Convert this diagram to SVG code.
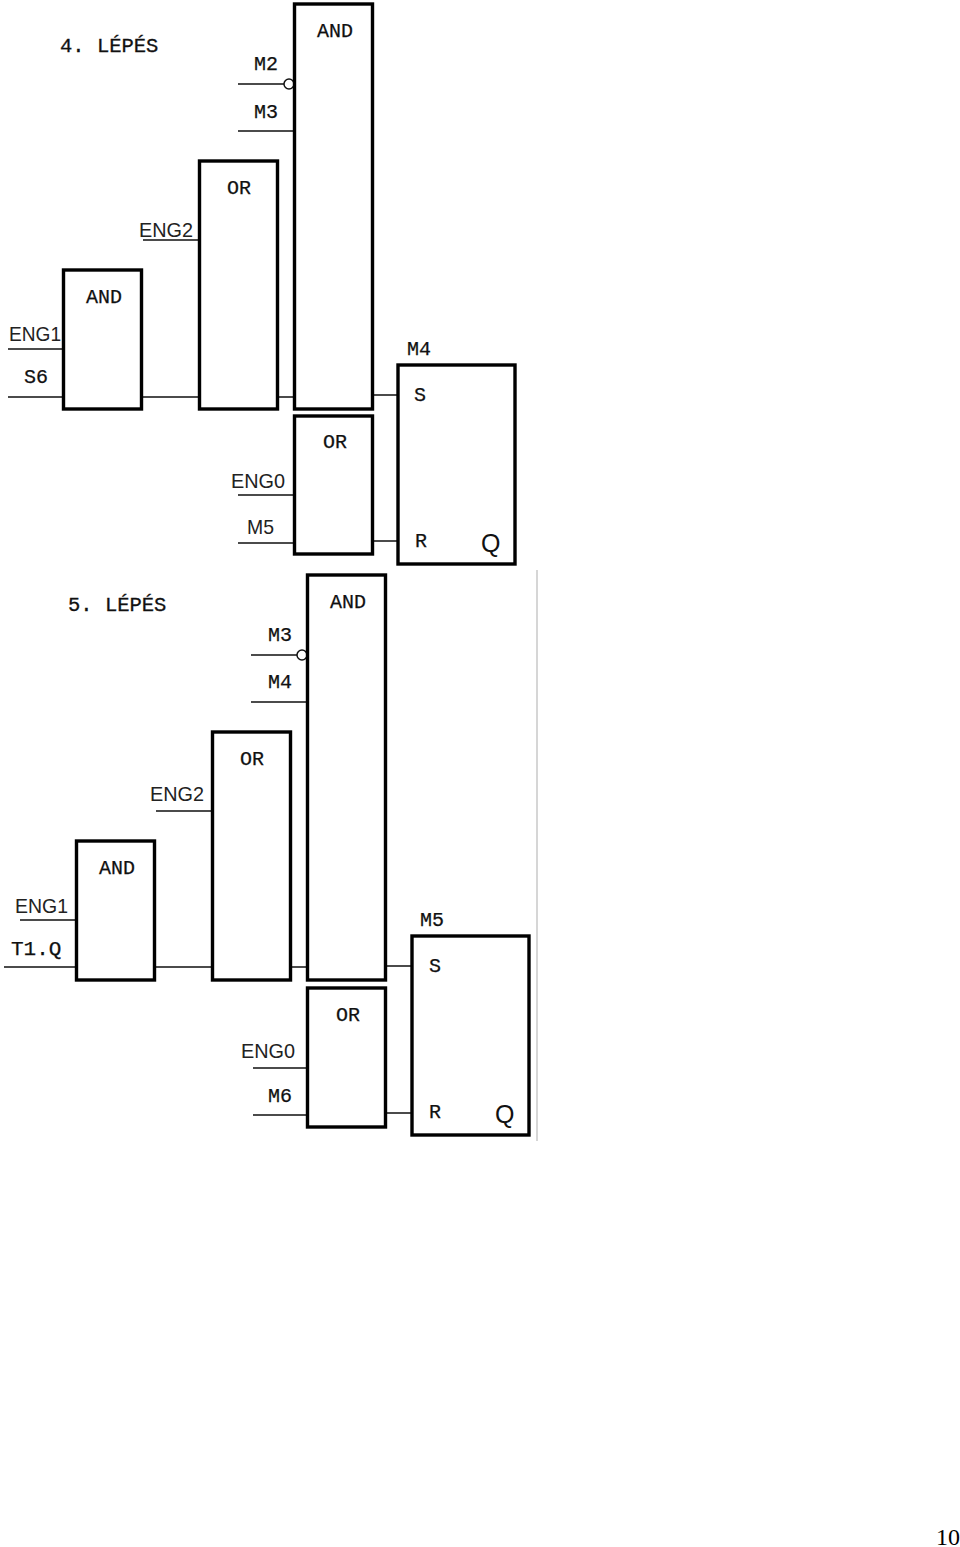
<svg xmlns="http://www.w3.org/2000/svg" width="960" height="1547" viewBox="0 0 960 1547">
<style>
.box{fill:none;stroke:#000;stroke-width:3.4}
.w{fill:none;stroke:#111;stroke-width:1.5}
.m{font-family:"Liberation Mono",monospace;font-size:20px;fill:#111;stroke:#111;stroke-width:.25}
.h{font-family:"Liberation Mono",monospace;font-size:20.500px;fill:#111;stroke:#111;stroke-width:.3}
.s{font-family:"Liberation Sans",Arial,sans-serif;font-size:21px;fill:#222}
.q{font-family:"Liberation Sans",Arial,sans-serif;font-size:25px;fill:#111}
.p{font-family:"Liberation Serif",serif;font-size:24px;fill:#000}
</style>
<rect width="960" height="1547" fill="#fff"/>
<line x1="537" y1="570" x2="537" y2="1141" stroke="#c8c8c8" stroke-width="1.5"/>
<g id="connectors">
<path class="w" d="M238 84H284M238 131H295M143 240H200M8 349H64M8 397H64M141 397H200M277 397H295M372 395H398M238 495H295M238 543H295M372 541H398"/>
<path class="w" d="M251 655H297M251 702H307M156 811H212M20 920H76M4 967H76M154 967H212M290 967H307M385 966H412M253 1068H307M253 1115H307M385 1113H412"/>
<circle class="w" cx="289" cy="84" r="5"/>
<circle class="w" cx="302" cy="655" r="5"/>
</g>
<g id="step4"><text class="h" x="60" y="52">4. LÉPÉS</text></g>
<g id="and4a"><rect class="box" x="294.500" y="4" width="78" height="405"/><text class="m" x="317" y="37">AND</text><text class="m" x="254" y="70">M2</text><text class="m" x="254" y="118">M3</text></g>
<g id="or4a"><rect class="box" x="199.500" y="161" width="78" height="248"/><text class="m" x="227" y="194">OR</text><text class="s" x="139" y="237" textLength="54" lengthAdjust="spacingAndGlyphs">ENG2</text></g>
<g id="and4b"><rect class="box" x="63.500" y="270" width="78" height="139"/><text class="m" x="86" y="303">AND</text><text class="s" x="9" y="341" textLength="52" lengthAdjust="spacingAndGlyphs">ENG1</text><text class="m" x="24" y="383">S6</text></g>
<g id="or4b"><rect class="box" x="294.500" y="416" width="78" height="138"/><text class="m" x="323" y="448">OR</text><text class="s" x="231" y="488" textLength="54" lengthAdjust="spacingAndGlyphs">ENG0</text><text class="s" x="247" y="534" textLength="27" lengthAdjust="spacingAndGlyphs">M5</text></g>
<g id="sr4"><rect class="box" x="398" y="365" width="117" height="199"/><text class="m" x="407" y="355">M4</text><text class="m" x="414" y="401">S</text><text class="m" x="415" y="547">R</text><text class="q" x="481" y="552">Q</text></g>
<g id="step5"><text class="h" x="68" y="611">5. LÉPÉS</text></g>
<g id="and5a"><rect class="box" x="307.500" y="575" width="78" height="405"/><text class="m" x="330" y="608">AND</text><text class="m" x="268" y="641">M3</text><text class="m" x="268" y="688">M4</text></g>
<g id="or5a"><rect class="box" x="212.500" y="732" width="78" height="248"/><text class="m" x="240" y="765">OR</text><text class="s" x="150" y="801" textLength="54" lengthAdjust="spacingAndGlyphs">ENG2</text></g>
<g id="and5b"><rect class="box" x="76.500" y="841" width="78" height="139"/><text class="m" x="99" y="874">AND</text><text class="s" x="15" y="913" textLength="53" lengthAdjust="spacingAndGlyphs">ENG1</text><text class="m" x="11" y="955" style="font-size:21px">T1.Q</text></g>
<g id="or5b"><rect class="box" x="307.500" y="988" width="78" height="139"/><text class="m" x="336" y="1021">OR</text><text class="s" x="241" y="1058" textLength="54" lengthAdjust="spacingAndGlyphs">ENG0</text><text class="m" x="268" y="1102">M6</text></g>
<g id="sr5"><rect class="box" x="412" y="936" width="117" height="199"/><text class="m" x="420" y="926">M5</text><text class="m" x="429" y="972">S</text><text class="m" x="429" y="1118">R</text><text class="q" x="495" y="1123">Q</text></g>
<text class="p" x="936" y="1545">10</text>
</svg>
